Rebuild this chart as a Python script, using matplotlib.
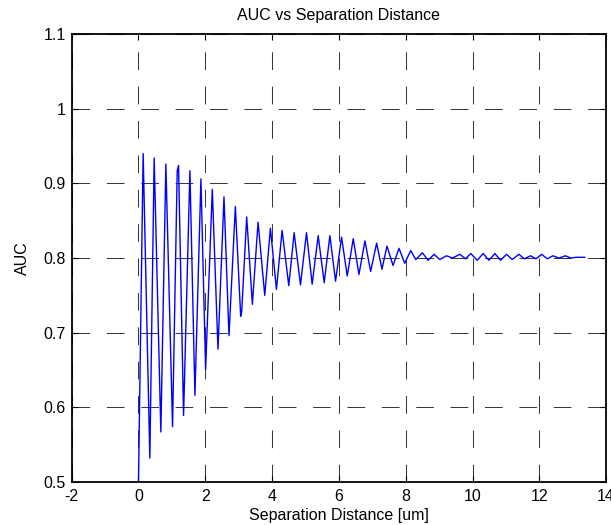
import numpy as np
import matplotlib.pyplot as plt
from matplotlib.ticker import FuncFormatter

plt.rcParams['font.family'] = ['Liberation Sans', 'DejaVu Sans']
plt.rcParams['axes.unicode_minus'] = False

# peaks and troughs of the AUC curve
sep_um = [0.00, 0.14, 0.34, 0.47, 0.67, 0.82, 1.02, 1.16, 1.20, 1.35, 1.54, 1.69,
          1.87, 2.01, 2.21, 2.38, 2.56, 2.71, 2.90, 3.06, 3.09, 3.24, 3.41, 3.58,
          3.78, 3.95, 4.13, 4.30, 4.50, 4.66, 4.85, 5.03, 5.20, 5.38, 5.56, 5.73,
          5.90, 6.08, 6.25, 6.43, 6.60, 6.78, 6.95, 7.13, 7.29, 7.44, 7.62, 7.80,
          7.97, 8.15, 8.30, 8.50, 8.67, 8.85, 9.02, 9.22, 9.40, 9.62, 9.79, 9.95,
          10.14, 10.32, 10.49, 10.67, 10.84, 11.02, 11.19, 11.39, 11.55, 11.74,
          11.90, 12.07, 12.24, 12.41, 12.59, 12.78, 12.95, 13.10, 13.36]
auc = [0.500, 0.940, 0.532, 0.934, 0.567, 0.926, 0.574, 0.917, 0.924, 0.589, 0.917, 0.616,
       0.906, 0.651, 0.892, 0.678, 0.882, 0.696, 0.869, 0.722, 0.728, 0.855, 0.738, 0.848,
       0.750, 0.840, 0.758, 0.837, 0.763, 0.834, 0.764, 0.834, 0.765, 0.830, 0.767, 0.830,
       0.769, 0.828, 0.776, 0.826, 0.778, 0.823, 0.782, 0.820, 0.785, 0.816, 0.790, 0.813,
       0.793, 0.810, 0.798, 0.807, 0.797, 0.805, 0.798, 0.803, 0.800, 0.805, 0.799, 0.806,
       0.797, 0.806, 0.797, 0.806, 0.797, 0.805, 0.798, 0.805, 0.799, 0.803,
       0.799, 0.805, 0.799, 0.803, 0.800, 0.803, 0.800, 0.801, 0.801]

fig = plt.figure(figsize=(6.11, 5.25), dpi=100)
ax = fig.add_axes([0.1173, 0.082, 0.8747, 0.853])

ax.plot(sep_um, auc, color='#0000ff', linewidth=1.0)

ax.set_xlim(-2, 14)
ax.set_ylim(0.5, 1.1)
ax.set_xticks(np.arange(-2, 15, 2))
ax.set_yticks(np.arange(0.5, 1.11, 0.1))
ax.yaxis.set_major_formatter(FuncFormatter(lambda v, p: f'{v:g}'))

# MATLAB style long dashed grid
ax.grid(True, color='#3a3a3a', linestyle=(0, (17, 16)), linewidth=0.75)
ax.tick_params(direction='in', top=True, right=True, length=4, labelsize=11.5)
ax.tick_params(axis='x', pad=5)
ax.tick_params(axis='y', pad=4)
for s in ax.spines.values():
    s.set_linewidth(1.3)

ax.set_title('AUC vs Separation Distance', fontsize=11.5, pad=10)
ax.set_xlabel('Separation Distance [um]', fontsize=11.5, labelpad=3)
ax.set_ylabel('AUC', fontsize=11.5, labelpad=10)

fig.savefig('out.png', dpi=100)
